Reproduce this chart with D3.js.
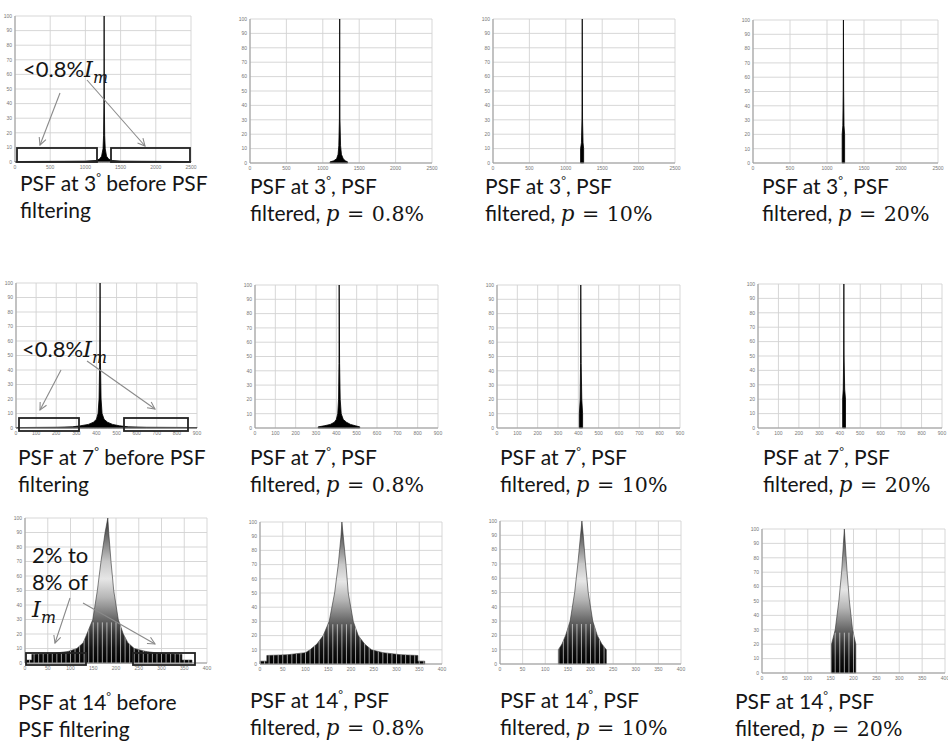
<!DOCTYPE html>
<html>
<head>
<meta charset="utf-8">
<script src="https://cdn.jsdelivr.net/npm/d3@7"></script>
<style>
  body { margin: 0; background: #fff; }
  svg { display: block; }
</style>
</head>
<body>
<script>
// tick values
const yTicks = [0, 10, 20, 30, 40, 50, 60, 70, 80, 90, 100]
const xTicks3 = [0, 500, 1000, 1500, 2000, 2500]
const xTicks7 = [0, 100, 200, 300, 400, 500, 600, 700, 800, 900]
const xTicks14 = [0, 50, 100, 150, 200, 250, 300, 350, 400]

// PSF profiles, [pixel, % of Im]
const psf3Raw = [[0, 0.3], [300, 0.4], [700, 0.5], [1000, 0.6], [1150, 1], [1200, 2], [1230, 4], [1250, 9], [1258, 18], [1263, 40], [1266, 100], [1269, 40], [1274, 18], [1282, 9], [1300, 4], [1330, 2], [1380, 1], [1500, 0.6], [1800, 0.5], [2200, 0.4], [2500, 0.3]]
const psf3P08 = [[1100, 0], [1100, 0.8], [1150, 1.5], [1190, 3], [1210, 6], [1220, 12], [1228, 30], [1232, 100], [1236, 30], [1244, 12], [1256, 6], [1280, 3], [1310, 1.5], [1340, 0.8], [1340, 0]]
const psf3P10 = [[1203, 0], [1203, 10], [1215, 14], [1222, 30], [1226, 100], [1230, 30], [1237, 14], [1245, 10], [1245, 0]]
const psf3P20 = [[1205, 0], [1205, 20], [1214, 26], [1219, 50], [1222, 100], [1225, 50], [1230, 26], [1238, 20], [1238, 0]]

const psf7Raw = [[0, 0.3], [100, 0.4], [200, 0.5], [280, 0.8], [320, 1.5], [360, 2.5], [385, 4], [400, 6], [408, 10], [413, 20], [416, 45], [418, 100], [420, 45], [423, 20], [428, 10], [438, 6], [455, 4], [480, 2.5], [515, 1.5], [560, 0.8], [650, 0.5], [800, 0.4], [900, 0.3]]
const psf7P08 = [[311, 0], [311, 0.8], [340, 1.5], [370, 2.5], [390, 4], [400, 6], [407, 10], [411, 20], [413, 45], [414, 100], [416, 45], [419, 20], [424, 10], [434, 6], [450, 4], [470, 2.5], [495, 1.5], [515, 0.8], [515, 0]]
const psf7P10 = [[405, 0], [405, 10], [409, 20], [411, 45], [412, 100], [414, 45], [417, 20], [421, 10], [421, 0]]
const psf7P20 = [[414, 0], [414, 20], [417, 27], [419, 50], [420, 100], [421, 50], [424, 27], [428, 20], [428, 0]]

const psf14Raw = [[2, 0], [2, 2], [15, 2], [15, 6], [60, 6.5], [95, 8], [114, 10], [128, 14], [136, 20], [149, 30], [159, 50], [167, 70], [176, 90], [182, 100], [184, 90], [189, 70], [195, 50], [205, 30], [216, 20], [226, 14], [240, 10], [265, 8], [300, 6.5], [345, 6], [345, 2], [367, 2], [367, 0]]
const psf14P08 = [[0, 0], [0, 2], [15, 2], [15, 6], [60, 6.5], [100, 8], [110, 10], [125, 14], [139, 20], [152, 30], [164, 50], [172, 70], [178, 90], [180, 100], [183, 90], [189, 70], [194, 50], [205, 30], [216, 20], [230, 14], [245, 10], [270, 8], [310, 6.5], [347, 6], [347, 2], [362, 2], [362, 0]]
const psf14P10 = [[129, 0], [129, 10], [137, 14], [145, 20], [155, 30], [165, 50], [172, 70], [178, 90], [181, 100], [184, 90], [189, 70], [195, 50], [205, 30], [215, 20], [225, 14], [235, 10], [235, 0]]
const psf14P20 = [[152, 0], [152, 20], [160, 30], [168, 50], [174, 70], [178, 90], [180, 100], [182, 90], [186, 70], [191, 50], [198, 30], [205, 20], [205, 0]]

// captions: [text, kind]  kind: s = sans, d = degree sign, m = math, mi = math italic
const capBefore3 = [[['PSF at 3', 's'], ['°', 'd'], [' before PSF', 's']], [['filtering', 's']]]
const capBefore7 = [[['PSF at 7', 's'], ['°', 'd'], [' before PSF', 's']], [['filtering', 's']]]
const capBefore14 = [[['PSF at 14', 's'], ['°', 'd'], [' before', 's']], [['PSF filtering', 's']]]
const capFiltered = (deg, p) => [[['PSF at ' + deg, 's'], ['°', 'd'], [', PSF', 's']], [['filtered, ', 's'], ['p', 'mi'], [' = ' + p, 'm']]]

const panels = [
  { data: psf3Raw, ticks: xTicks3, dom: 2500, x0: 15, x1: 191, y0: 16, y1: 162, cap: capBefore3, cx: 20, cy: 191 },
  { data: psf3P08, ticks: xTicks3, dom: 2500, x0: 250, x1: 432, y0: 19, y1: 163, cap: capFiltered('3', '0.8%'), cx: 250, cy: 194 },
  { data: psf3P10, ticks: xTicks3, dom: 2500, x0: 493, x1: 675, y0: 19, y1: 163, cap: capFiltered('3', '10%'), cx: 485, cy: 194 },
  { data: psf3P20, ticks: xTicks3, dom: 2500, x0: 753, x1: 938, y0: 20, y1: 163, cap: capFiltered('3', '20%'), cx: 762, cy: 194 },
  { data: psf7Raw, ticks: xTicks7, dom: 900, x0: 16, x1: 197, y0: 283, y1: 428, cap: capBefore7, cx: 18, cy: 465 },
  { data: psf7P08, ticks: xTicks7, dom: 900, x0: 255, x1: 438, y0: 285, y1: 428, cap: capFiltered('7', '0.8%'), cx: 250, cy: 465 },
  { data: psf7P10, ticks: xTicks7, dom: 900, x0: 497, x1: 680, y0: 285, y1: 428, cap: capFiltered('7', '10%'), cx: 500, cy: 465 },
  { data: psf7P20, ticks: xTicks7, dom: 900, x0: 758, x1: 942, y0: 284, y1: 428, cap: capFiltered('7', '20%'), cx: 763, cy: 465 },
  { data: psf14Raw, ticks: xTicks14, dom: 400, x0: 25, x1: 207, y0: 518, y1: 663, cap: capBefore14, cx: 18, cy: 710, shade: true },
  { data: psf14P08, ticks: xTicks14, dom: 400, x0: 260, x1: 442, y0: 522, y1: 664, cap: capFiltered('14', '0.8%'), cx: 250, cy: 708, shade: true },
  { data: psf14P10, ticks: xTicks14, dom: 400, x0: 500, x1: 681, y0: 521, y1: 664, cap: capFiltered('14', '10%'), cx: 500, cy: 708, shade: true },
  { data: psf14P20, ticks: xTicks14, dom: 400, x0: 762, x1: 945, y0: 529, y1: 673, cap: capFiltered('14', '20%'), cx: 735, cy: 709, shade: true }
]

// annotation boxes / arrows on the unfiltered panels
const notes = [
  { lines: [[['<0.8%', 's'], ['I', 'mi'], ['m', 'sub']]], tx: 23, ty: 77, lh: 0,
    boxes: [[17, 148, 97, 162], [111, 148, 190, 162]], arrows: [[60, 93, 40, 145], [87, 80, 145, 146]] },
  { lines: [[['<0.8%', 's'], ['I', 'mi'], ['m', 'sub']]], tx: 22, ty: 357, lh: 0,
    boxes: [[19, 418, 79, 431], [124, 418, 188, 431]], arrows: [[61, 370, 40, 410], [87, 361, 155, 409]] },
  { lines: [[['2% to', 's']], [['8% of', 's']], [['I', 'mi'], ['m', 'sub']]], tx: 32, ty: 563, lh: 27,
    boxes: [[26, 653, 86, 665], [133, 653, 195, 665]], arrows: [[70, 598, 55, 643], [83, 603, 155, 644]] }
]

const W = 948, H = 743
const svg = d3.select('body').append('svg').attr('width', W).attr('height', H)
const defs = svg.append('defs')

defs.append('marker')
  .attr('id', 'arr')
  .attr('viewBox', '0 0 10 10')
  .attr('refX', 9).attr('refY', 5)
  .attr('markerWidth', 9).attr('markerHeight', 9)
  .attr('markerUnits', 'userSpaceOnUse')
  .attr('orient', 'auto')
  .append('path')
  .attr('d', 'M1,1 L9,5 L1,9')
  .attr('fill', 'none')
  .attr('stroke', '#8a8a8a')
  .attr('stroke-width', 1.2)

const sansFont = 'Lato, "Open Sans", sans-serif'
const mathFont = '"DejaVu Serif", "Liberation Serif", serif'

function writeLine(t, x, y, segs, size) {
  const text = t.append('text').attr('x', x).attr('y', y).attr('fill', '#151515').attr('font-size', size)
  const up = size * 0.42
  segs.forEach(([s, k], i) => {
    const ts = text.append('tspan').text(s)
    const prev = i > 0 ? segs[i - 1][1] : null
    if (k === 's') ts.attr('font-family', sansFont)
    if (k === 'd') ts.attr('font-family', sansFont).attr('font-size', size * 0.55).attr('dy', -up)
    if (k === 'm') ts.attr('font-family', mathFont).attr('font-size', size * 0.98).attr('word-spacing', 1)
    if (k === 'mi') ts.attr('font-family', mathFont).attr('font-style', 'italic').attr('font-size', size * 1.02)
    if (k === 'sub') ts.attr('font-family', mathFont).attr('font-style', 'italic').attr('font-size', size * 0.72).attr('dy', size * 0.25)
    // drop back after the raised degree sign
    if (prev === 'd') ts.attr('dy', up)
  })
  return text
}

panels.forEach((p, i) => {
  const x = d3.scaleLinear().domain([0, p.dom]).range([p.x0, p.x1])
  const y = d3.scaleLinear().domain([0, 100]).range([p.y1, p.y0])
  const g = svg.append('g')

  // grid
  g.append('g').selectAll('line').data(p.ticks).join('line')
    .attr('x1', d => x(d)).attr('x2', d => x(d)).attr('y1', p.y0).attr('y2', p.y1)
    .attr('stroke', '#d2d2d2').attr('stroke-width', 0.9)
  g.append('g').selectAll('line').data(yTicks).join('line')
    .attr('x1', p.x0).attr('x2', p.x1).attr('y1', d => y(d)).attr('y2', d => y(d))
    .attr('stroke', '#d2d2d2').attr('stroke-width', 0.9)

  // profile
  const area = d3.area().x(d => x(d[0])).y0(y(0)).y1(d => y(d[1]))
  let fill = '#000'
  if (p.shade) {
    const gid = 'grad' + i
    const gr = defs.append('linearGradient').attr('id', gid)
      .attr('gradientUnits', 'userSpaceOnUse')
      .attr('x1', 0).attr('x2', 0).attr('y1', y(0)).attr('y2', y(100))
    ;[[0, '#000'], [0.1, '#111'], [0.2, '#333'], [0.3, '#666'], [0.45, '#b5b5b5'], [0.58, '#e6e6e6'], [0.7, '#c8c8c8'], [0.82, '#888'], [0.92, '#555'], [1, '#333']]
      .forEach(([o, c]) => gr.append('stop').attr('offset', o).attr('stop-color', c))
    fill = `url(#${gid})`
  }
  g.append('path').datum(p.data)
    .attr('d', area)
    .attr('fill', fill)
    .attr('stroke', p.shade ? '#333' : '#000')
    .attr('stroke-width', p.shade ? 0.6 : 0.8)
    .attr('stroke-linejoin', 'round')

  if (p.shade) {
    const cid = 'clip' + i
    defs.append('clipPath').attr('id', cid).append('path').datum(p.data).attr('d', area)
    g.append('g').attr('clip-path', `url(#${cid})`)
      .selectAll('line').data(x.ticks(40)).join('line')
      .attr('x1', d => x(d)).attr('x2', d => x(d)).attr('y1', y(0)).attr('y2', y(28))
      .attr('stroke', '#fff').attr('stroke-opacity', 0.75).attr('stroke-width', 0.8)
  }

  // frame
  g.append('line').attr('x1', p.x0).attr('x2', p.x1).attr('y1', p.y1).attr('y2', p.y1).attr('stroke', '#999')
  g.append('line').attr('x1', p.x0).attr('x2', p.x0).attr('y1', p.y0).attr('y2', p.y1).attr('stroke', '#999')

  // tick labels
  g.append('g').selectAll('text').data(yTicks).join('text')
    .attr('x', p.x0 - 3).attr('y', d => y(d) + 1.8)
    .attr('text-anchor', 'end').attr('font-size', 5).attr('font-family', 'Arial, sans-serif')
    .attr('fill', '#777').text(d => d)
  g.append('g').selectAll('text').data(p.ticks).join('text')
    .attr('x', d => x(d)).attr('y', p.y1 + 6.5)
    .attr('text-anchor', 'middle').attr('font-size', 5).attr('font-family', 'Arial, sans-serif')
    .attr('fill', '#777').text(d => d)

  // caption
  p.cap.forEach((segs, li) => writeLine(svg, p.cx, p.cy + li * 27, segs, 21))
})

notes.forEach(n => {
  const g = svg.append('g')
  g.selectAll('rect').data(n.boxes).join('rect')
    .attr('x', d => d[0]).attr('y', d => d[1])
    .attr('width', d => d[2] - d[0]).attr('height', d => d[3] - d[1])
    .attr('fill', 'none').attr('stroke', '#222').attr('stroke-width', 1.8)
  g.selectAll('line').data(n.arrows).join('line')
    .attr('x1', d => d[0]).attr('y1', d => d[1]).attr('x2', d => d[2]).attr('y2', d => d[3])
    .attr('stroke', '#8a8a8a').attr('stroke-width', 1.1)
    .attr('marker-end', 'url(#arr)')
  n.lines.forEach((segs, li) => writeLine(g, n.tx, n.ty + li * n.lh, segs, 22))
})
</script>
</body>
</html>
